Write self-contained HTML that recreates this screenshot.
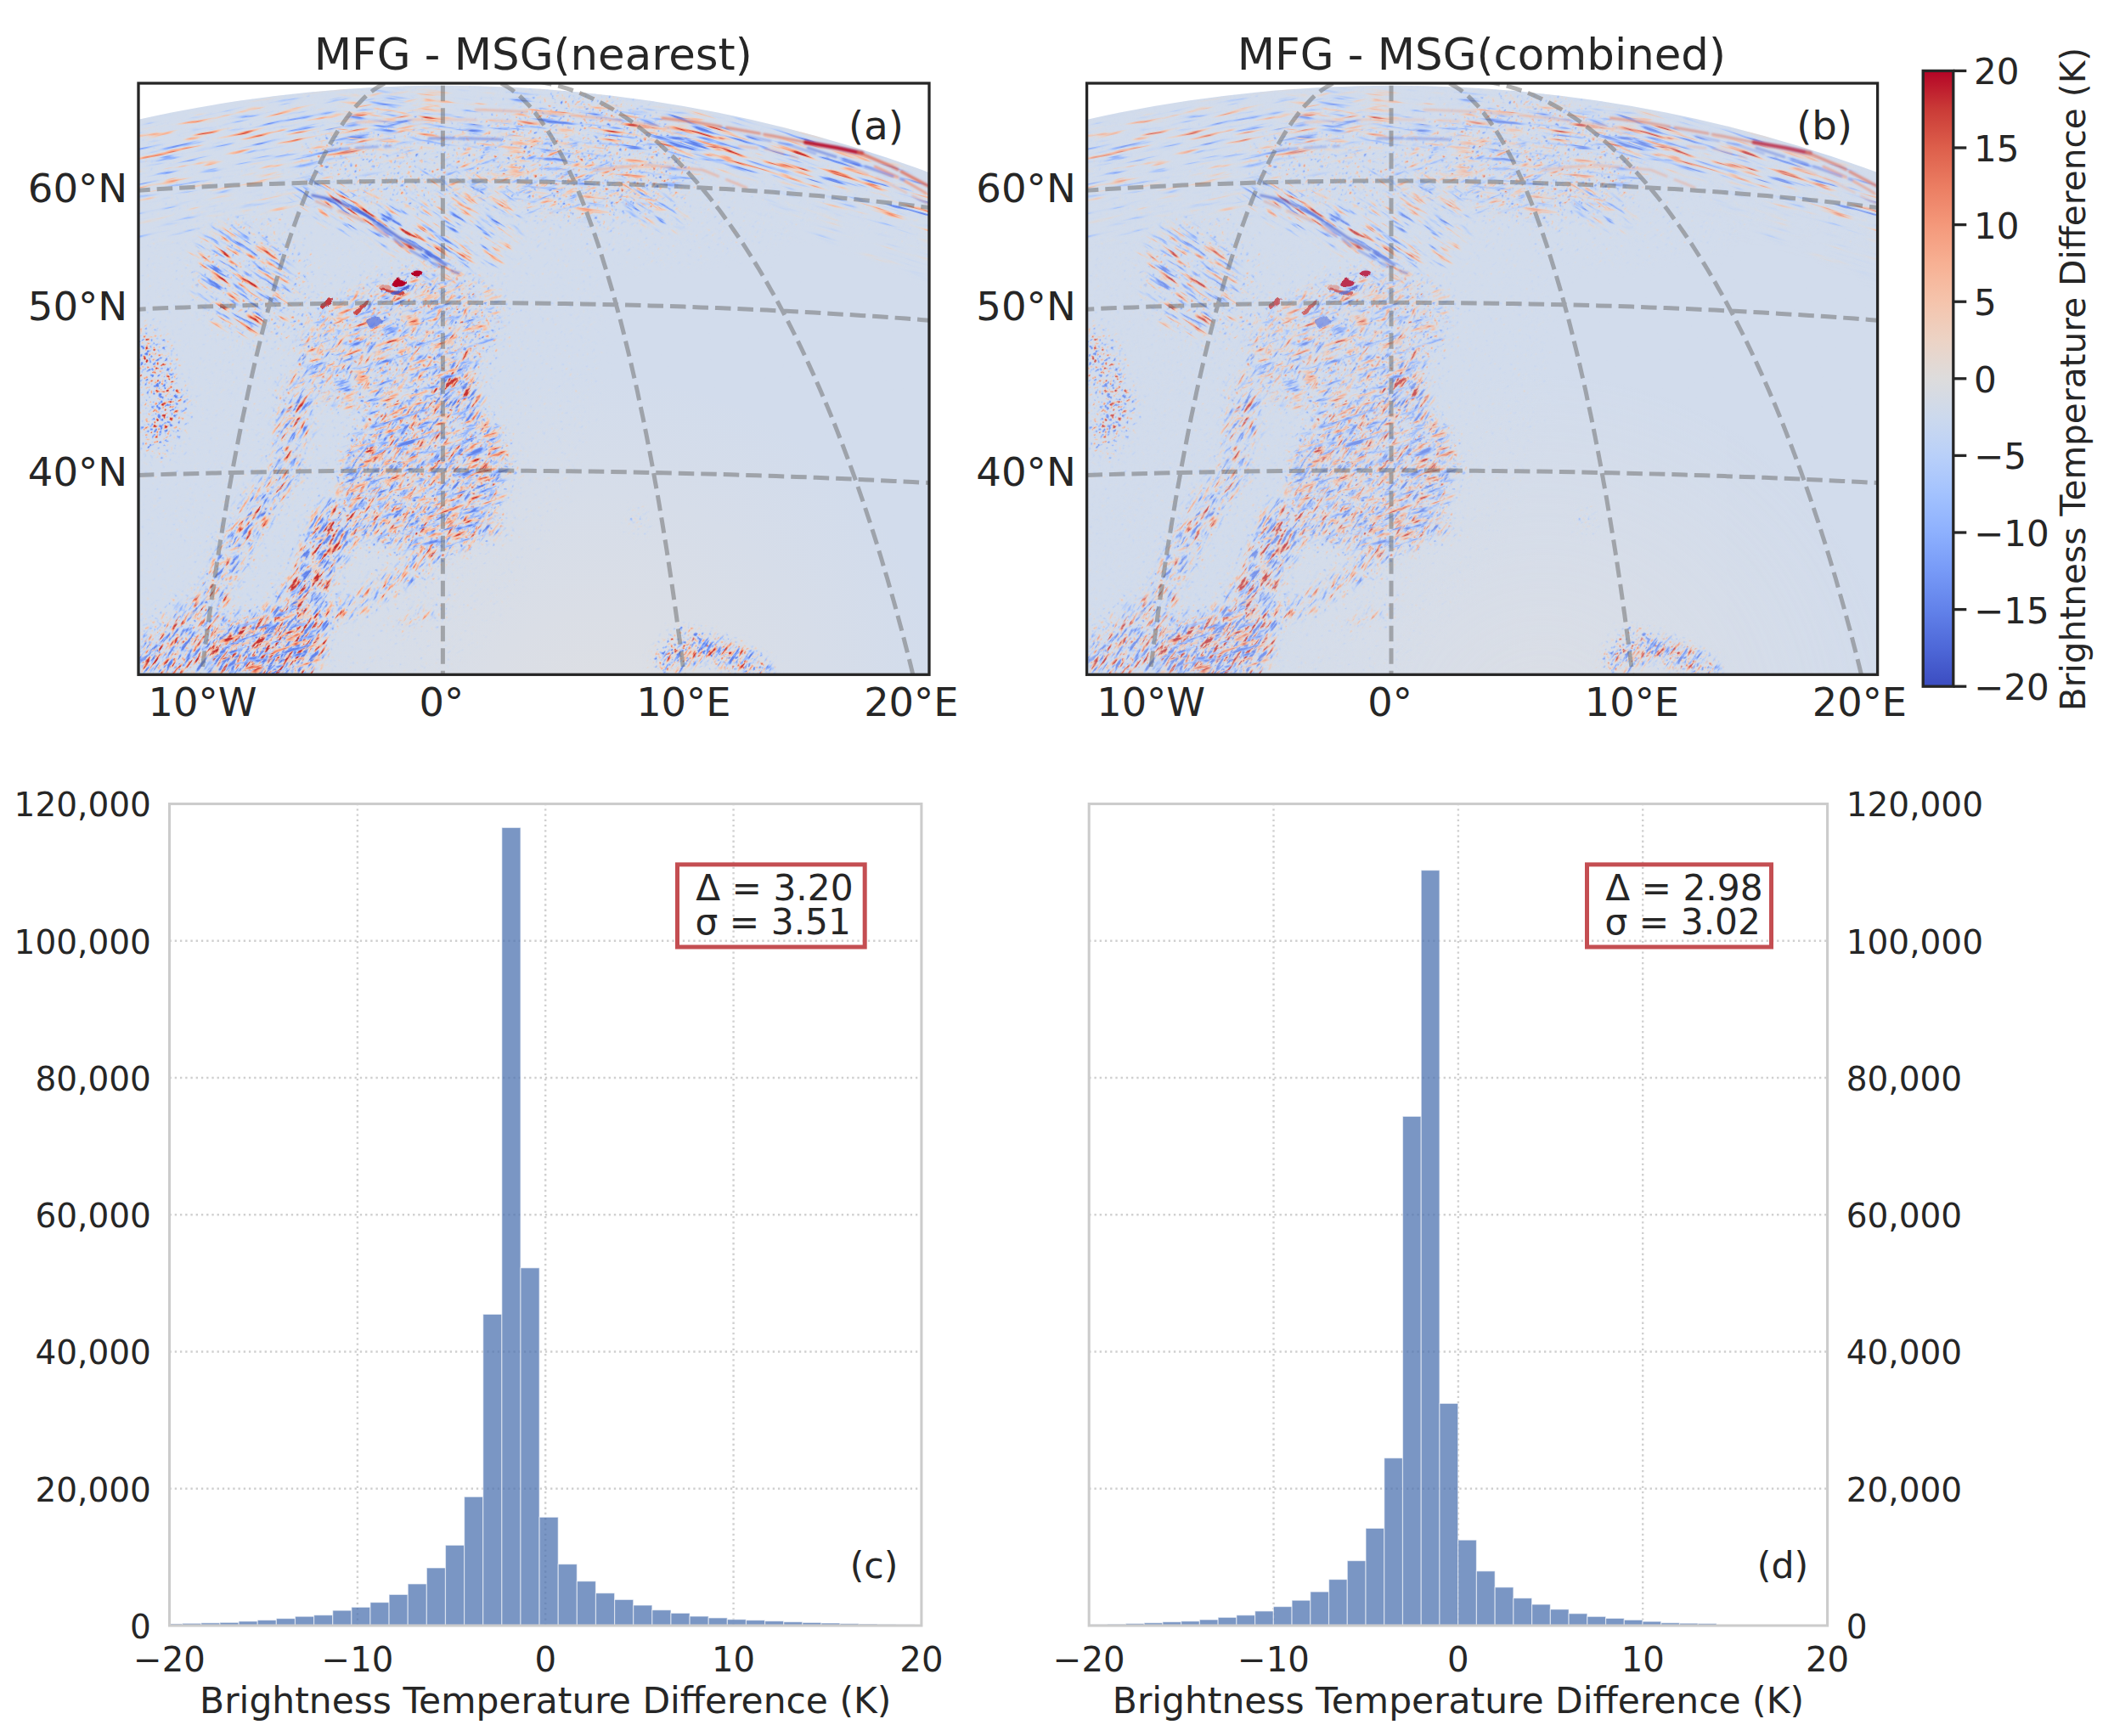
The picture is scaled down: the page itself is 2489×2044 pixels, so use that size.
<!DOCTYPE html>
<html lang="en"><head><meta charset="utf-8"><title>MFG - MSG brightness temperature difference</title>
<style>html,body{margin:0;padding:0;background:#fff}body{width:2489px;height:2044px;overflow:hidden}svg{display:block}text{font-family:"DejaVu Sans","Liberation Sans",sans-serif;fill:#262626}</style></head><body>
<svg width="2489" height="2044" viewBox="0 0 2489 2044">
<rect width="2489" height="2044" fill="#fff"/>
<defs>
<clipPath id="clipA"><rect x="163.0" y="98.0" width="931.0" height="696.3"/></clipPath>
<clipPath id="disc"><circle cx="523.4" cy="1742.6" r="1641.8"/></clipPath>
<linearGradient id="cw" x1="0" y1="1" x2="0" y2="0">
<stop offset="0.0000" stop-color="#3b4cc0"/>
<stop offset="0.0625" stop-color="#4e68d8"/>
<stop offset="0.1250" stop-color="#6282ea"/>
<stop offset="0.1875" stop-color="#779af7"/>
<stop offset="0.2500" stop-color="#8db0fe"/>
<stop offset="0.3125" stop-color="#a3c2fe"/>
<stop offset="0.3750" stop-color="#b9d0f9"/>
<stop offset="0.4375" stop-color="#ccd9ed"/>
<stop offset="0.5000" stop-color="#dddcdc"/>
<stop offset="0.5625" stop-color="#ecd3c5"/>
<stop offset="0.6250" stop-color="#f5c4ac"/>
<stop offset="0.6875" stop-color="#f7b093"/>
<stop offset="0.7500" stop-color="#f4987a"/>
<stop offset="0.8125" stop-color="#eb7d62"/>
<stop offset="0.8750" stop-color="#dd5f4b"/>
<stop offset="0.9375" stop-color="#ca3b37"/>
<stop offset="1.0000" stop-color="#b40426"/>
</linearGradient>
<g id="tex">
<radialGradient id="tint" cx="700" cy="860" r="420" gradientUnits="userSpaceOnUse"><stop offset="0" stop-color="#dedfe3"/><stop offset="1" stop-color="#dedfe3" stop-opacity="0"/></radialGradient>
<rect x="163.0" y="98.0" width="931.0" height="696.3" fill="url(#tint)"/>
<filter id="tx0" x="0" y="0" width="1" height="1" color-interpolation-filters="sRGB">
<feGaussianBlur in="SourceGraphic" stdDeviation="12" result="m"/>
<feTurbulence type="fractalNoise" baseFrequency="0.2 0.26" numOctaves="2" seed="7" result="t"/>
<feColorMatrix in="t" type="matrix" values="0 0 0 1 0 0 0 0 1 0 0 0 0 1 0 0 0 0 0 1" result="tg"/>
<feComposite in="tg" in2="m" operator="arithmetic" k1="2.9" k2="0" k3="-1.45" k4="0.455" result="s"/>
<feComponentTransfer in="s" result="col"><feFuncR type="table" tableValues="0.384 0.404 0.425 0.446 0.468 0.489 0.505 0.527 0.543 0.565 0.581 0.598 0.614 0.630 0.646 0.662 0.673 0.688 0.698 0.714 0.724 0.734 0.744 0.754 0.763 0.773 0.777 0.787 0.791 0.796 0.801 0.805 0.809 0.814 0.814 0.818 0.818 0.818 0.818 0.822 0.822 0.827 0.831 0.835 0.843 0.847 0.851 0.859 0.867 0.876 0.884 0.892 0.900 0.909 0.916 0.926 0.933 0.938 0.946 0.951 0.958 0.962 0.965 0.968 0.969 0.970 0.968 0.966 0.962 0.957 0.948 0.939 0.929 0.915 0.900 0.885 0.865 0.844 0.820 0.796 0.769"/><feFuncG type="table" tableValues="0.510 0.535 0.559 0.582 0.606 0.628 0.644 0.665 0.680 0.699 0.713 0.727 0.740 0.753 0.764 0.775 0.783 0.793 0.799 0.809 0.815 0.820 0.825 0.830 0.835 0.839 0.841 0.845 0.847 0.849 0.850 0.852 0.853 0.854 0.854 0.856 0.856 0.856 0.856 0.857 0.857 0.858 0.860 0.861 0.862 0.862 0.863 0.864 0.864 0.860 0.856 0.852 0.848 0.839 0.834 0.826 0.816 0.809 0.799 0.787 0.771 0.758 0.745 0.726 0.706 0.690 0.668 0.646 0.622 0.598 0.566 0.540 0.512 0.477 0.441 0.410 0.371 0.330 0.287 0.242 0.189"/><feFuncB type="table" tableValues="0.918 0.932 0.946 0.957 0.969 0.977 0.983 0.989 0.993 0.997 0.998 1.000 0.999 0.999 0.997 0.994 0.992 0.988 0.985 0.979 0.976 0.971 0.966 0.961 0.956 0.949 0.946 0.940 0.937 0.933 0.930 0.926 0.922 0.918 0.918 0.915 0.915 0.915 0.915 0.911 0.911 0.907 0.903 0.899 0.890 0.886 0.881 0.872 0.863 0.851 0.840 0.829 0.818 0.800 0.789 0.771 0.753 0.741 0.723 0.705 0.680 0.662 0.643 0.618 0.594 0.575 0.550 0.526 0.502 0.477 0.447 0.424 0.401 0.372 0.344 0.323 0.296 0.270 0.245 0.221 0.198"/></feComponentTransfer>
<feComponentTransfer in="s" result="av"><feFuncR type="table" tableValues="1.000 1.000 1.000 1.000 1.000 1.000 1.000 1.000 1.000 1.000 1.000 1.000 0.995 0.919 0.846 0.775 0.706 0.641 0.578 0.517 0.460 0.405 0.353 0.304 0.257 0.214 0.173 0.136 0.101 0.070 0.042 0.017 0.000 0.000 0.000 0.000 0.000 0.000 0.000 0.000 0.000 0.005 0.030 0.058 0.090 0.126 0.165 0.207 0.253 0.302 0.354 0.409 0.468 0.529 0.594 0.662 0.732 0.806 0.882 0.961 1.000 1.000 1.000 1.000 1.000 1.000 1.000 1.000 1.000 1.000 1.000 1.000 1.000 1.000 1.000 1.000 1.000 1.000 1.000 1.000 1.000"/></feComponentTransfer>
<feColorMatrix in="av" type="matrix" values="0 0 0 0 1 0 0 0 0 1 0 0 0 0 1 1 0 0 0 0" result="a"/>
<feComposite in="col" in2="a" operator="in"/>
</filter>
<g transform="rotate(-35 628.5 446.15)" filter="url(#tx0)" opacity="1"><g transform="rotate(35 628.5 446.15)">
<rect x="103.0" y="38.0" width="1051.0" height="816.3" fill="#000"/>
<rect x="103.0" y="38.0" width="1051.0" height="816.3" fill="rgb(17,17,17)"/>
<ellipse cx="400" cy="470" rx="300" ry="420" transform="rotate(20 400 470)" fill="rgb(56,56,56)"/>
<ellipse cx="640" cy="200" rx="330" ry="110" transform="rotate(8 640 200)" fill="rgb(63,63,63)"/>
<path d="M150 195.2 L189.6 186.2 L229.2 178.2 L268.8 171.3 L308.3 165.4 L347.9 160.5 L387.5 156.6 L427.1 153.7 L466.7 151.8 L506.2 150.9 L545.8 151 L585.4 152 L625 154 L664.6 157.1 L704.2 161.1 L743.8 166.1 L783.3 172.2 L822.9 179.2 L862.5 187.3 L902.1 196.5 L941.7 206.7 L981.2 218.1 L1020.8 230.5 L1060.4 244.1 L1100 258.9" fill="none" stroke="rgb(56,56,56)" stroke-width="100" stroke-linecap="round" stroke-linejoin="round"/>
<ellipse cx="690" cy="185" rx="130" ry="75" transform="rotate(5 690 185)" fill="rgb(127,127,127)"/>
<ellipse cx="470" cy="190" rx="120" ry="55" transform="rotate(0 470 190)" fill="rgb(107,107,107)"/>
<path d="M172 405 L186 445 L200 482 L184 515" fill="none" stroke="rgb(216,216,216)" stroke-width="34" stroke-linecap="round" stroke-linejoin="round"/>
<ellipse cx="300" cy="330" rx="70" ry="80" transform="rotate(-30 300 330)" fill="rgb(102,102,102)"/>
<ellipse cx="470" cy="400" rx="130" ry="80" transform="rotate(-20 470 400)" fill="rgb(127,127,127)"/>
<ellipse cx="500" cy="560" rx="105" ry="95" transform="rotate(-20 500 560)" fill="rgb(153,153,153)"/>
<path d="M164 773 L249 707 L284 629 L338 551 L349 462" fill="none" stroke="rgb(114,114,114)" stroke-width="50" stroke-linecap="round" stroke-linejoin="round"/>
<path d="M300 796 L360 696 L393 618 L471 584 L516 551 L538 462 L520 380" fill="none" stroke="rgb(140,140,140)" stroke-width="60" stroke-linecap="round" stroke-linejoin="round"/>
<path d="M360 742 L440 700 L522 651 L585 622" fill="none" stroke="rgb(140,140,140)" stroke-width="22" stroke-linecap="round" stroke-linejoin="round"/>
<path d="M471 736 L527 707" fill="none" stroke="rgb(114,114,114)" stroke-width="18" stroke-linecap="round" stroke-linejoin="round"/>
<ellipse cx="310" cy="762" rx="70" ry="40" transform="rotate(0 310 762)" fill="rgb(178,178,178)"/>
<ellipse cx="200" cy="770" rx="45" ry="35" transform="rotate(0 200 770)" fill="rgb(140,140,140)"/>
<path d="M782 778 L815 758 L850 768 L895 790" fill="none" stroke="rgb(216,216,216)" stroke-width="34" stroke-linecap="round" stroke-linejoin="round"/>
<ellipse cx="800" cy="745" rx="14" ry="8" transform="rotate(0 800 745)" fill="rgb(204,204,204)"/>
<ellipse cx="752" cy="612" rx="12" ry="20" transform="rotate(0 752 612)" fill="rgb(153,153,153)"/>
</g></g>
<filter id="txl" x="0" y="0" width="1" height="1" color-interpolation-filters="sRGB">
<feGaussianBlur in="SourceGraphic" stdDeviation="14" result="m"/>
<feTurbulence type="fractalNoise" baseFrequency="0.018 0.2" numOctaves="3" seed="11" result="t"/>
<feColorMatrix in="t" type="matrix" values="0 0 0 1 0 0 0 0 1 0 0 0 0 1 0 0 0 0 0 1" result="tg"/>
<feComposite in="tg" in2="m" operator="arithmetic" k1="3.0" k2="0" k3="-1.5" k4="0.455" result="s"/>
<feComponentTransfer in="s" result="col"><feFuncR type="table" tableValues="0.384 0.404 0.425 0.446 0.468 0.489 0.505 0.527 0.543 0.565 0.581 0.598 0.614 0.630 0.646 0.662 0.673 0.688 0.698 0.714 0.724 0.734 0.744 0.754 0.763 0.773 0.777 0.787 0.791 0.796 0.801 0.805 0.809 0.814 0.814 0.818 0.818 0.818 0.818 0.822 0.822 0.827 0.831 0.835 0.843 0.847 0.851 0.859 0.867 0.876 0.884 0.892 0.900 0.909 0.916 0.926 0.933 0.938 0.946 0.951 0.958 0.962 0.965 0.968 0.969 0.970 0.968 0.966 0.962 0.957 0.948 0.939 0.929 0.915 0.900 0.885 0.865 0.844 0.820 0.796 0.769"/><feFuncG type="table" tableValues="0.510 0.535 0.559 0.582 0.606 0.628 0.644 0.665 0.680 0.699 0.713 0.727 0.740 0.753 0.764 0.775 0.783 0.793 0.799 0.809 0.815 0.820 0.825 0.830 0.835 0.839 0.841 0.845 0.847 0.849 0.850 0.852 0.853 0.854 0.854 0.856 0.856 0.856 0.856 0.857 0.857 0.858 0.860 0.861 0.862 0.862 0.863 0.864 0.864 0.860 0.856 0.852 0.848 0.839 0.834 0.826 0.816 0.809 0.799 0.787 0.771 0.758 0.745 0.726 0.706 0.690 0.668 0.646 0.622 0.598 0.566 0.540 0.512 0.477 0.441 0.410 0.371 0.330 0.287 0.242 0.189"/><feFuncB type="table" tableValues="0.918 0.932 0.946 0.957 0.969 0.977 0.983 0.989 0.993 0.997 0.998 1.000 0.999 0.999 0.997 0.994 0.992 0.988 0.985 0.979 0.976 0.971 0.966 0.961 0.956 0.949 0.946 0.940 0.937 0.933 0.930 0.926 0.922 0.918 0.918 0.915 0.915 0.915 0.915 0.911 0.911 0.907 0.903 0.899 0.890 0.886 0.881 0.872 0.863 0.851 0.840 0.829 0.818 0.800 0.789 0.771 0.753 0.741 0.723 0.705 0.680 0.662 0.643 0.618 0.594 0.575 0.550 0.526 0.502 0.477 0.447 0.424 0.401 0.372 0.344 0.323 0.296 0.270 0.245 0.221 0.198"/></feComponentTransfer>
<feComponentTransfer in="s" result="av"><feFuncR type="table" tableValues="1.000 1.000 1.000 1.000 1.000 1.000 1.000 1.000 1.000 1.000 1.000 1.000 0.995 0.919 0.846 0.775 0.706 0.641 0.578 0.517 0.460 0.405 0.353 0.304 0.257 0.214 0.173 0.136 0.101 0.070 0.042 0.017 0.000 0.000 0.000 0.000 0.000 0.000 0.000 0.000 0.000 0.005 0.030 0.058 0.090 0.126 0.165 0.207 0.253 0.302 0.354 0.409 0.468 0.529 0.594 0.662 0.732 0.806 0.882 0.961 1.000 1.000 1.000 1.000 1.000 1.000 1.000 1.000 1.000 1.000 1.000 1.000 1.000 1.000 1.000 1.000 1.000 1.000 1.000 1.000 1.000"/></feComponentTransfer>
<feColorMatrix in="av" type="matrix" values="0 0 0 0 1 0 0 0 0 1 0 0 0 0 1 1 0 0 0 0" result="a"/>
<feComposite in="col" in2="a" operator="in"/>
</filter>
<g transform="rotate(-11 628.5 446.15)" filter="url(#txl)" opacity="1"><g transform="rotate(11 628.5 446.15)">
<rect x="103.0" y="38.0" width="1051.0" height="816.3" fill="#000"/>
<path d="M140 193.5 L154.2 190.1 L168.3 186.8 L182.5 183.6 L196.7 180.6 L210.8 177.7 L225 174.9 L239.2 172.3 L253.3 169.8 L267.5 167.5 L281.7 165.2 L295.8 163.1 L310 161.1 L324.2 159.3 L338.3 157.6 L352.5 156 L366.7 154.5 L380.8 153.2 L395 152 L409.2 150.9 L423.3 149.9 L437.5 149.1 L451.7 148.4 L465.8 147.8 L480 147.4" fill="none" stroke="rgb(127,127,127)" stroke-width="90" stroke-linecap="round" stroke-linejoin="round"/>
<path d="M140 275.1 L152.1 272 L164.2 269 L176.2 266.1 L188.3 263.3 L200.4 260.6 L212.5 258 L224.6 255.5 L236.7 253.1 L248.8 250.9 L260.8 248.7 L272.9 246.6 L285 244.7 L297.1 242.8 L309.2 241 L321.2 239.3 L333.3 237.8 L345.4 236.3 L357.5 234.9 L369.6 233.6 L381.7 232.4 L393.8 231.4 L405.8 230.4 L417.9 229.5 L430 228.7" fill="none" stroke="rgb(84,84,84)" stroke-width="60" stroke-linecap="round" stroke-linejoin="round"/>
</g></g>
<filter id="txm" x="0" y="0" width="1" height="1" color-interpolation-filters="sRGB">
<feGaussianBlur in="SourceGraphic" stdDeviation="14" result="m"/>
<feTurbulence type="fractalNoise" baseFrequency="0.02 0.2" numOctaves="3" seed="23" result="t"/>
<feColorMatrix in="t" type="matrix" values="0 0 0 1 0 0 0 0 1 0 0 0 0 1 0 0 0 0 0 1" result="tg"/>
<feComposite in="tg" in2="m" operator="arithmetic" k1="3.0" k2="0" k3="-1.5" k4="0.455" result="s"/>
<feComponentTransfer in="s" result="col"><feFuncR type="table" tableValues="0.384 0.404 0.425 0.446 0.468 0.489 0.505 0.527 0.543 0.565 0.581 0.598 0.614 0.630 0.646 0.662 0.673 0.688 0.698 0.714 0.724 0.734 0.744 0.754 0.763 0.773 0.777 0.787 0.791 0.796 0.801 0.805 0.809 0.814 0.814 0.818 0.818 0.818 0.818 0.822 0.822 0.827 0.831 0.835 0.843 0.847 0.851 0.859 0.867 0.876 0.884 0.892 0.900 0.909 0.916 0.926 0.933 0.938 0.946 0.951 0.958 0.962 0.965 0.968 0.969 0.970 0.968 0.966 0.962 0.957 0.948 0.939 0.929 0.915 0.900 0.885 0.865 0.844 0.820 0.796 0.769"/><feFuncG type="table" tableValues="0.510 0.535 0.559 0.582 0.606 0.628 0.644 0.665 0.680 0.699 0.713 0.727 0.740 0.753 0.764 0.775 0.783 0.793 0.799 0.809 0.815 0.820 0.825 0.830 0.835 0.839 0.841 0.845 0.847 0.849 0.850 0.852 0.853 0.854 0.854 0.856 0.856 0.856 0.856 0.857 0.857 0.858 0.860 0.861 0.862 0.862 0.863 0.864 0.864 0.860 0.856 0.852 0.848 0.839 0.834 0.826 0.816 0.809 0.799 0.787 0.771 0.758 0.745 0.726 0.706 0.690 0.668 0.646 0.622 0.598 0.566 0.540 0.512 0.477 0.441 0.410 0.371 0.330 0.287 0.242 0.189"/><feFuncB type="table" tableValues="0.918 0.932 0.946 0.957 0.969 0.977 0.983 0.989 0.993 0.997 0.998 1.000 0.999 0.999 0.997 0.994 0.992 0.988 0.985 0.979 0.976 0.971 0.966 0.961 0.956 0.949 0.946 0.940 0.937 0.933 0.930 0.926 0.922 0.918 0.918 0.915 0.915 0.915 0.915 0.911 0.911 0.907 0.903 0.899 0.890 0.886 0.881 0.872 0.863 0.851 0.840 0.829 0.818 0.800 0.789 0.771 0.753 0.741 0.723 0.705 0.680 0.662 0.643 0.618 0.594 0.575 0.550 0.526 0.502 0.477 0.447 0.424 0.401 0.372 0.344 0.323 0.296 0.270 0.245 0.221 0.198"/></feComponentTransfer>
<feComponentTransfer in="s" result="av"><feFuncR type="table" tableValues="1.000 1.000 1.000 1.000 1.000 1.000 1.000 1.000 1.000 1.000 1.000 1.000 0.995 0.919 0.846 0.775 0.706 0.641 0.578 0.517 0.460 0.405 0.353 0.304 0.257 0.214 0.173 0.136 0.101 0.070 0.042 0.017 0.000 0.000 0.000 0.000 0.000 0.000 0.000 0.000 0.000 0.005 0.030 0.058 0.090 0.126 0.165 0.207 0.253 0.302 0.354 0.409 0.468 0.529 0.594 0.662 0.732 0.806 0.882 0.961 1.000 1.000 1.000 1.000 1.000 1.000 1.000 1.000 1.000 1.000 1.000 1.000 1.000 1.000 1.000 1.000 1.000 1.000 1.000 1.000 1.000"/></feComponentTransfer>
<feColorMatrix in="av" type="matrix" values="0 0 0 0 1 0 0 0 0 1 0 0 0 0 1 1 0 0 0 0" result="a"/>
<feComposite in="col" in2="a" operator="in"/>
</filter>
<g transform="rotate(6 628.5 446.15)" filter="url(#txm)" opacity="1"><g transform="rotate(-6 628.5 446.15)">
<rect x="103.0" y="38.0" width="1051.0" height="816.3" fill="#000"/>
<path d="M420 144.1 L437.5 143.1 L455 142.3 L472.5 141.6 L490 141.1 L507.5 140.9 L525 140.8 L542.5 140.9 L560 141.2 L577.5 141.7 L595 142.4 L612.5 143.3 L630 144.4 L647.5 145.6 L665 147.1 L682.5 148.7 L700 150.6 L717.5 152.6 L735 154.8 L752.5 157.3 L770 159.9 L787.5 162.7 L805 165.7 L822.5 169 L840 172.4" fill="none" stroke="rgb(127,127,127)" stroke-width="70" stroke-linecap="round" stroke-linejoin="round"/>
<ellipse cx="690" cy="215" rx="130" ry="45" transform="rotate(8 690 215)" fill="rgb(102,102,102)"/>
</g></g>
<filter id="txr" x="0" y="0" width="1" height="1" color-interpolation-filters="sRGB">
<feGaussianBlur in="SourceGraphic" stdDeviation="13" result="m"/>
<feTurbulence type="fractalNoise" baseFrequency="0.016 0.2" numOctaves="3" seed="31" result="t"/>
<feColorMatrix in="t" type="matrix" values="0 0 0 1 0 0 0 0 1 0 0 0 0 1 0 0 0 0 0 1" result="tg"/>
<feComposite in="tg" in2="m" operator="arithmetic" k1="3.1" k2="0" k3="-1.55" k4="0.455" result="s"/>
<feComponentTransfer in="s" result="col"><feFuncR type="table" tableValues="0.384 0.404 0.425 0.446 0.468 0.489 0.505 0.527 0.543 0.565 0.581 0.598 0.614 0.630 0.646 0.662 0.673 0.688 0.698 0.714 0.724 0.734 0.744 0.754 0.763 0.773 0.777 0.787 0.791 0.796 0.801 0.805 0.809 0.814 0.814 0.818 0.818 0.818 0.818 0.822 0.822 0.827 0.831 0.835 0.843 0.847 0.851 0.859 0.867 0.876 0.884 0.892 0.900 0.909 0.916 0.926 0.933 0.938 0.946 0.951 0.958 0.962 0.965 0.968 0.969 0.970 0.968 0.966 0.962 0.957 0.948 0.939 0.929 0.915 0.900 0.885 0.865 0.844 0.820 0.796 0.769"/><feFuncG type="table" tableValues="0.510 0.535 0.559 0.582 0.606 0.628 0.644 0.665 0.680 0.699 0.713 0.727 0.740 0.753 0.764 0.775 0.783 0.793 0.799 0.809 0.815 0.820 0.825 0.830 0.835 0.839 0.841 0.845 0.847 0.849 0.850 0.852 0.853 0.854 0.854 0.856 0.856 0.856 0.856 0.857 0.857 0.858 0.860 0.861 0.862 0.862 0.863 0.864 0.864 0.860 0.856 0.852 0.848 0.839 0.834 0.826 0.816 0.809 0.799 0.787 0.771 0.758 0.745 0.726 0.706 0.690 0.668 0.646 0.622 0.598 0.566 0.540 0.512 0.477 0.441 0.410 0.371 0.330 0.287 0.242 0.189"/><feFuncB type="table" tableValues="0.918 0.932 0.946 0.957 0.969 0.977 0.983 0.989 0.993 0.997 0.998 1.000 0.999 0.999 0.997 0.994 0.992 0.988 0.985 0.979 0.976 0.971 0.966 0.961 0.956 0.949 0.946 0.940 0.937 0.933 0.930 0.926 0.922 0.918 0.918 0.915 0.915 0.915 0.915 0.911 0.911 0.907 0.903 0.899 0.890 0.886 0.881 0.872 0.863 0.851 0.840 0.829 0.818 0.800 0.789 0.771 0.753 0.741 0.723 0.705 0.680 0.662 0.643 0.618 0.594 0.575 0.550 0.526 0.502 0.477 0.447 0.424 0.401 0.372 0.344 0.323 0.296 0.270 0.245 0.221 0.198"/></feComponentTransfer>
<feComponentTransfer in="s" result="av"><feFuncR type="table" tableValues="1.000 1.000 1.000 1.000 1.000 1.000 1.000 1.000 1.000 1.000 1.000 1.000 0.995 0.919 0.846 0.775 0.706 0.641 0.578 0.517 0.460 0.405 0.353 0.304 0.257 0.214 0.173 0.136 0.101 0.070 0.042 0.017 0.000 0.000 0.000 0.000 0.000 0.000 0.000 0.000 0.000 0.005 0.030 0.058 0.090 0.126 0.165 0.207 0.253 0.302 0.354 0.409 0.468 0.529 0.594 0.662 0.732 0.806 0.882 0.961 1.000 1.000 1.000 1.000 1.000 1.000 1.000 1.000 1.000 1.000 1.000 1.000 1.000 1.000 1.000 1.000 1.000 1.000 1.000 1.000 1.000"/></feComponentTransfer>
<feColorMatrix in="av" type="matrix" values="0 0 0 0 1 0 0 0 0 1 0 0 0 0 1 1 0 0 0 0" result="a"/>
<feComposite in="col" in2="a" operator="in"/>
</filter>
<g transform="rotate(17 628.5 446.15)" filter="url(#txr)" opacity="1"><g transform="rotate(-17 628.5 446.15)">
<rect x="103.0" y="38.0" width="1051.0" height="816.3" fill="#000"/>
<path d="M780 155.4 L793.8 157.7 L807.5 160.1 L821.2 162.6 L835 165.3 L848.8 168.1 L862.5 171 L876.2 174 L890 177.2 L903.8 180.4 L917.5 183.8 L931.2 187.4 L945 191.1 L958.8 194.9 L972.5 198.8 L986.2 202.9 L1000 207.1 L1013.8 211.4 L1027.5 215.9 L1041.2 220.5 L1055 225.2 L1068.8 230.1 L1082.5 235.1 L1096.2 240.3 L1110 245.6" fill="none" stroke="rgb(173,173,173)" stroke-width="60" stroke-linecap="round" stroke-linejoin="round"/>
<path d="M900 247.5 L908.8 249.7 L917.5 252 L926.2 254.4 L935 256.8 L943.8 259.2 L952.5 261.7 L961.2 264.3 L970 266.9 L978.8 269.6 L987.5 272.3 L996.2 275.1 L1005 277.9 L1013.8 280.9 L1022.5 283.8 L1031.2 286.8 L1040 289.9 L1048.8 293.1 L1057.5 296.3 L1066.2 299.5 L1075 302.8 L1083.8 306.2 L1092.5 309.7 L1101.2 313.2 L1110 316.8" fill="none" stroke="rgb(63,63,63)" stroke-width="55" stroke-linecap="round" stroke-linejoin="round"/>
</g></g>
<filter id="txp" x="0" y="0" width="1" height="1" color-interpolation-filters="sRGB">
<feGaussianBlur in="SourceGraphic" stdDeviation="12" result="m"/>
<feTurbulence type="fractalNoise" baseFrequency="0.03 0.22" numOctaves="3" seed="5" result="t"/>
<feColorMatrix in="t" type="matrix" values="0 0 0 1 0 0 0 0 1 0 0 0 0 1 0 0 0 0 0 1" result="tg"/>
<feComposite in="tg" in2="m" operator="arithmetic" k1="3.0" k2="0" k3="-1.5" k4="0.455" result="s"/>
<feComponentTransfer in="s" result="col"><feFuncR type="table" tableValues="0.384 0.404 0.425 0.446 0.468 0.489 0.505 0.527 0.543 0.565 0.581 0.598 0.614 0.630 0.646 0.662 0.673 0.688 0.698 0.714 0.724 0.734 0.744 0.754 0.763 0.773 0.777 0.787 0.791 0.796 0.801 0.805 0.809 0.814 0.814 0.818 0.818 0.818 0.818 0.822 0.822 0.827 0.831 0.835 0.843 0.847 0.851 0.859 0.867 0.876 0.884 0.892 0.900 0.909 0.916 0.926 0.933 0.938 0.946 0.951 0.958 0.962 0.965 0.968 0.969 0.970 0.968 0.966 0.962 0.957 0.948 0.939 0.929 0.915 0.900 0.885 0.865 0.844 0.820 0.796 0.769"/><feFuncG type="table" tableValues="0.510 0.535 0.559 0.582 0.606 0.628 0.644 0.665 0.680 0.699 0.713 0.727 0.740 0.753 0.764 0.775 0.783 0.793 0.799 0.809 0.815 0.820 0.825 0.830 0.835 0.839 0.841 0.845 0.847 0.849 0.850 0.852 0.853 0.854 0.854 0.856 0.856 0.856 0.856 0.857 0.857 0.858 0.860 0.861 0.862 0.862 0.863 0.864 0.864 0.860 0.856 0.852 0.848 0.839 0.834 0.826 0.816 0.809 0.799 0.787 0.771 0.758 0.745 0.726 0.706 0.690 0.668 0.646 0.622 0.598 0.566 0.540 0.512 0.477 0.441 0.410 0.371 0.330 0.287 0.242 0.189"/><feFuncB type="table" tableValues="0.918 0.932 0.946 0.957 0.969 0.977 0.983 0.989 0.993 0.997 0.998 1.000 0.999 0.999 0.997 0.994 0.992 0.988 0.985 0.979 0.976 0.971 0.966 0.961 0.956 0.949 0.946 0.940 0.937 0.933 0.930 0.926 0.922 0.918 0.918 0.915 0.915 0.915 0.915 0.911 0.911 0.907 0.903 0.899 0.890 0.886 0.881 0.872 0.863 0.851 0.840 0.829 0.818 0.800 0.789 0.771 0.753 0.741 0.723 0.705 0.680 0.662 0.643 0.618 0.594 0.575 0.550 0.526 0.502 0.477 0.447 0.424 0.401 0.372 0.344 0.323 0.296 0.270 0.245 0.221 0.198"/></feComponentTransfer>
<feComponentTransfer in="s" result="av"><feFuncR type="table" tableValues="1.000 1.000 1.000 1.000 1.000 1.000 1.000 1.000 1.000 1.000 1.000 1.000 0.995 0.919 0.846 0.775 0.706 0.641 0.578 0.517 0.460 0.405 0.353 0.304 0.257 0.214 0.173 0.136 0.101 0.070 0.042 0.017 0.000 0.000 0.000 0.000 0.000 0.000 0.000 0.000 0.000 0.005 0.030 0.058 0.090 0.126 0.165 0.207 0.253 0.302 0.354 0.409 0.468 0.529 0.594 0.662 0.732 0.806 0.882 0.961 1.000 1.000 1.000 1.000 1.000 1.000 1.000 1.000 1.000 1.000 1.000 1.000 1.000 1.000 1.000 1.000 1.000 1.000 1.000 1.000 1.000"/></feComponentTransfer>
<feColorMatrix in="av" type="matrix" values="0 0 0 0 1 0 0 0 0 1 0 0 0 0 1 1 0 0 0 0" result="a"/>
<feComposite in="col" in2="a" operator="in"/>
</filter>
<g transform="rotate(33 628.5 446.15)" filter="url(#txp)" opacity="1"><g transform="rotate(-33 628.5 446.15)">
<rect x="103.0" y="38.0" width="1051.0" height="816.3" fill="#000"/>
<path d="M365 228 L450 262 L525 312" fill="none" stroke="rgb(178,178,178)" stroke-width="50" stroke-linecap="round" stroke-linejoin="round"/>
<ellipse cx="285" cy="330" rx="60" ry="75" transform="rotate(-35 285 330)" fill="rgb(153,153,153)"/>
<ellipse cx="765" cy="240" rx="50" ry="25" transform="rotate(33 765 240)" fill="rgb(153,153,153)"/>
<ellipse cx="545" cy="240" rx="70" ry="50" transform="rotate(20 545 240)" fill="rgb(114,114,114)"/>
<ellipse cx="565" cy="268" rx="50" ry="60" transform="rotate(30 565 268)" fill="rgb(140,140,140)"/>
</g></g>
<filter id="txd" x="0" y="0" width="1" height="1" color-interpolation-filters="sRGB">
<feGaussianBlur in="SourceGraphic" stdDeviation="10" result="m"/>
<feTurbulence type="fractalNoise" baseFrequency="0.05 0.24" numOctaves="3" seed="17" result="t"/>
<feColorMatrix in="t" type="matrix" values="0 0 0 1 0 0 0 0 1 0 0 0 0 1 0 0 0 0 0 1" result="tg"/>
<feComposite in="tg" in2="m" operator="arithmetic" k1="3.5" k2="0" k3="-1.75" k4="0.455" result="s"/>
<feComponentTransfer in="s" result="col"><feFuncR type="table" tableValues="0.384 0.404 0.425 0.446 0.468 0.489 0.505 0.527 0.543 0.565 0.581 0.598 0.614 0.630 0.646 0.662 0.673 0.688 0.698 0.714 0.724 0.734 0.744 0.754 0.763 0.773 0.777 0.787 0.791 0.796 0.801 0.805 0.809 0.814 0.814 0.818 0.818 0.818 0.818 0.822 0.822 0.827 0.831 0.835 0.843 0.847 0.851 0.859 0.867 0.876 0.884 0.892 0.900 0.909 0.916 0.926 0.933 0.938 0.946 0.951 0.958 0.962 0.965 0.968 0.969 0.970 0.968 0.966 0.962 0.957 0.948 0.939 0.929 0.915 0.900 0.885 0.865 0.844 0.820 0.796 0.769"/><feFuncG type="table" tableValues="0.510 0.535 0.559 0.582 0.606 0.628 0.644 0.665 0.680 0.699 0.713 0.727 0.740 0.753 0.764 0.775 0.783 0.793 0.799 0.809 0.815 0.820 0.825 0.830 0.835 0.839 0.841 0.845 0.847 0.849 0.850 0.852 0.853 0.854 0.854 0.856 0.856 0.856 0.856 0.857 0.857 0.858 0.860 0.861 0.862 0.862 0.863 0.864 0.864 0.860 0.856 0.852 0.848 0.839 0.834 0.826 0.816 0.809 0.799 0.787 0.771 0.758 0.745 0.726 0.706 0.690 0.668 0.646 0.622 0.598 0.566 0.540 0.512 0.477 0.441 0.410 0.371 0.330 0.287 0.242 0.189"/><feFuncB type="table" tableValues="0.918 0.932 0.946 0.957 0.969 0.977 0.983 0.989 0.993 0.997 0.998 1.000 0.999 0.999 0.997 0.994 0.992 0.988 0.985 0.979 0.976 0.971 0.966 0.961 0.956 0.949 0.946 0.940 0.937 0.933 0.930 0.926 0.922 0.918 0.918 0.915 0.915 0.915 0.915 0.911 0.911 0.907 0.903 0.899 0.890 0.886 0.881 0.872 0.863 0.851 0.840 0.829 0.818 0.800 0.789 0.771 0.753 0.741 0.723 0.705 0.680 0.662 0.643 0.618 0.594 0.575 0.550 0.526 0.502 0.477 0.447 0.424 0.401 0.372 0.344 0.323 0.296 0.270 0.245 0.221 0.198"/></feComponentTransfer>
<feComponentTransfer in="s" result="av"><feFuncR type="table" tableValues="1.000 1.000 1.000 1.000 1.000 1.000 1.000 1.000 1.000 1.000 1.000 1.000 0.995 0.919 0.846 0.775 0.706 0.641 0.578 0.517 0.460 0.405 0.353 0.304 0.257 0.214 0.173 0.136 0.101 0.070 0.042 0.017 0.000 0.000 0.000 0.000 0.000 0.000 0.000 0.000 0.000 0.005 0.030 0.058 0.090 0.126 0.165 0.207 0.253 0.302 0.354 0.409 0.468 0.529 0.594 0.662 0.732 0.806 0.882 0.961 1.000 1.000 1.000 1.000 1.000 1.000 1.000 1.000 1.000 1.000 1.000 1.000 1.000 1.000 1.000 1.000 1.000 1.000 1.000 1.000 1.000"/></feComponentTransfer>
<feColorMatrix in="av" type="matrix" values="0 0 0 0 1 0 0 0 0 1 0 0 0 0 1 1 0 0 0 0" result="a"/>
<feComposite in="col" in2="a" operator="in"/>
</filter>
<g transform="rotate(-55 628.5 446.15)" filter="url(#txd)" opacity="1"><g transform="rotate(55 628.5 446.15)">
<rect x="103.0" y="38.0" width="1051.0" height="816.3" fill="#000"/>
<ellipse cx="400" cy="520" rx="170" ry="300" transform="rotate(28 400 520)" fill="rgb(33,33,33)"/>
<path d="M164 773 L249 707 L284 629 L338 551 L349 462" fill="none" stroke="rgb(165,165,165)" stroke-width="36" stroke-linecap="round" stroke-linejoin="round"/>
<path d="M300 796 L360 696 L393 618 L471 584 L516 551 L538 462 L520 380" fill="none" stroke="rgb(229,229,229)" stroke-width="48" stroke-linecap="round" stroke-linejoin="round"/>
<path d="M360 742 L440 700 L522 651 L585 622" fill="none" stroke="rgb(216,216,216)" stroke-width="16" stroke-linecap="round" stroke-linejoin="round"/>
<path d="M471 736 L527 707" fill="none" stroke="rgb(191,191,191)" stroke-width="14" stroke-linecap="round" stroke-linejoin="round"/>
<ellipse cx="310" cy="765" rx="75" ry="42" transform="rotate(0 310 765)" fill="rgb(229,229,229)"/>
<ellipse cx="195" cy="775" rx="50" ry="30" transform="rotate(0 195 775)" fill="rgb(178,178,178)"/>
<ellipse cx="500" cy="560" rx="100" ry="90" transform="rotate(-20 500 560)" fill="rgb(140,140,140)"/>
<ellipse cx="455" cy="400" rx="120" ry="70" transform="rotate(-25 455 400)" fill="rgb(107,107,107)"/>
<path d="M790 780 L830 762 L870 775 L900 792" fill="none" stroke="rgb(216,216,216)" stroke-width="26" stroke-linecap="round" stroke-linejoin="round"/>
</g></g>
<filter id="txe" x="0" y="0" width="1" height="1" color-interpolation-filters="sRGB">
<feGaussianBlur in="SourceGraphic" stdDeviation="12" result="m"/>
<feTurbulence type="fractalNoise" baseFrequency="0.04 0.2" numOctaves="3" seed="41" result="t"/>
<feColorMatrix in="t" type="matrix" values="0 0 0 1 0 0 0 0 1 0 0 0 0 1 0 0 0 0 0 1" result="tg"/>
<feComposite in="tg" in2="m" operator="arithmetic" k1="3.0" k2="0" k3="-1.5" k4="0.455" result="s"/>
<feComponentTransfer in="s" result="col"><feFuncR type="table" tableValues="0.384 0.404 0.425 0.446 0.468 0.489 0.505 0.527 0.543 0.565 0.581 0.598 0.614 0.630 0.646 0.662 0.673 0.688 0.698 0.714 0.724 0.734 0.744 0.754 0.763 0.773 0.777 0.787 0.791 0.796 0.801 0.805 0.809 0.814 0.814 0.818 0.818 0.818 0.818 0.822 0.822 0.827 0.831 0.835 0.843 0.847 0.851 0.859 0.867 0.876 0.884 0.892 0.900 0.909 0.916 0.926 0.933 0.938 0.946 0.951 0.958 0.962 0.965 0.968 0.969 0.970 0.968 0.966 0.962 0.957 0.948 0.939 0.929 0.915 0.900 0.885 0.865 0.844 0.820 0.796 0.769"/><feFuncG type="table" tableValues="0.510 0.535 0.559 0.582 0.606 0.628 0.644 0.665 0.680 0.699 0.713 0.727 0.740 0.753 0.764 0.775 0.783 0.793 0.799 0.809 0.815 0.820 0.825 0.830 0.835 0.839 0.841 0.845 0.847 0.849 0.850 0.852 0.853 0.854 0.854 0.856 0.856 0.856 0.856 0.857 0.857 0.858 0.860 0.861 0.862 0.862 0.863 0.864 0.864 0.860 0.856 0.852 0.848 0.839 0.834 0.826 0.816 0.809 0.799 0.787 0.771 0.758 0.745 0.726 0.706 0.690 0.668 0.646 0.622 0.598 0.566 0.540 0.512 0.477 0.441 0.410 0.371 0.330 0.287 0.242 0.189"/><feFuncB type="table" tableValues="0.918 0.932 0.946 0.957 0.969 0.977 0.983 0.989 0.993 0.997 0.998 1.000 0.999 0.999 0.997 0.994 0.992 0.988 0.985 0.979 0.976 0.971 0.966 0.961 0.956 0.949 0.946 0.940 0.937 0.933 0.930 0.926 0.922 0.918 0.918 0.915 0.915 0.915 0.915 0.911 0.911 0.907 0.903 0.899 0.890 0.886 0.881 0.872 0.863 0.851 0.840 0.829 0.818 0.800 0.789 0.771 0.753 0.741 0.723 0.705 0.680 0.662 0.643 0.618 0.594 0.575 0.550 0.526 0.502 0.477 0.447 0.424 0.401 0.372 0.344 0.323 0.296 0.270 0.245 0.221 0.198"/></feComponentTransfer>
<feComponentTransfer in="s" result="av"><feFuncR type="table" tableValues="1.000 1.000 1.000 1.000 1.000 1.000 1.000 1.000 1.000 1.000 1.000 1.000 0.995 0.919 0.846 0.775 0.706 0.641 0.578 0.517 0.460 0.405 0.353 0.304 0.257 0.214 0.173 0.136 0.101 0.070 0.042 0.017 0.000 0.000 0.000 0.000 0.000 0.000 0.000 0.000 0.000 0.005 0.030 0.058 0.090 0.126 0.165 0.207 0.253 0.302 0.354 0.409 0.468 0.529 0.594 0.662 0.732 0.806 0.882 0.961 1.000 1.000 1.000 1.000 1.000 1.000 1.000 1.000 1.000 1.000 1.000 1.000 1.000 1.000 1.000 1.000 1.000 1.000 1.000 1.000 1.000"/></feComponentTransfer>
<feColorMatrix in="av" type="matrix" values="0 0 0 0 1 0 0 0 0 1 0 0 0 0 1 1 0 0 0 0" result="a"/>
<feComposite in="col" in2="a" operator="in"/>
</filter>
<g transform="rotate(-18 628.5 446.15)" filter="url(#txe)" opacity="1"><g transform="rotate(18 628.5 446.15)">
<rect x="103.0" y="38.0" width="1051.0" height="816.3" fill="#000"/>
<ellipse cx="500" cy="560" rx="105" ry="95" transform="rotate(-20 500 560)" fill="rgb(153,153,153)"/>
<ellipse cx="470" cy="400" rx="130" ry="80" transform="rotate(-20 470 400)" fill="rgb(127,127,127)"/>
<path d="M300 796 L360 696 L393 618 L471 584 L516 551 L538 462 L520 380" fill="none" stroke="rgb(114,114,114)" stroke-width="40" stroke-linecap="round" stroke-linejoin="round"/>
<path d="M164 773 L249 707 L284 629 L338 551 L349 462" fill="none" stroke="rgb(102,102,102)" stroke-width="30" stroke-linecap="round" stroke-linejoin="round"/>
<ellipse cx="310" cy="765" rx="75" ry="42" transform="rotate(0 310 765)" fill="rgb(153,153,153)"/>
<ellipse cx="620" cy="200" rx="120" ry="60" transform="rotate(5 620 200)" fill="rgb(102,102,102)"/>
</g></g>
<filter id="wob" x="-0.1" y="-0.1" width="1.2" height="1.2"><feTurbulence type="fractalNoise" baseFrequency="0.09" numOctaves="2" seed="4" result="w"/><feDisplacementMap in="SourceGraphic" in2="w" scale="7" xChannelSelector="R" yChannelSelector="G"/><feGaussianBlur stdDeviation="0.7"/></filter>
<filter id="soft" x="-0.05" y="-0.05" width="1.1" height="1.1"><feGaussianBlur stdDeviation="0.8"/></filter>
<g filter="url(#soft)">
<path d="M780 139 L820 144 L860 151 L910 160 L956 169" fill="none" stroke="#e27a61" stroke-width="2.8" stroke-opacity="0.75" stroke-linecap="round" stroke-linejoin="round" stroke-dasharray="70 6 40 5"/>
<path d="M948 167.5 L985 174 L1015 180.5" fill="none" stroke="#b8122a" stroke-width="4.6" stroke-opacity="0.95" stroke-linecap="round" stroke-linejoin="round" stroke-dasharray="none"/>
<path d="M1011 179.5 L1050 196 L1093 219" fill="none" stroke="#e0654f" stroke-width="3.4" stroke-opacity="0.8" stroke-linecap="round" stroke-linejoin="round" stroke-dasharray="50 5"/>
<path d="M1030 196 L1062 211 L1093 229" fill="none" stroke="#ee8c6f" stroke-width="2.5" stroke-opacity="0.8" stroke-linecap="round" stroke-linejoin="round" stroke-dasharray="30 8"/>
<path d="M1000 196 L1040 213 L1093 240" fill="none" stroke="#f2a98f" stroke-width="2.2" stroke-opacity="0.6" stroke-linecap="round" stroke-linejoin="round" stroke-dasharray="24 10 40 8"/>
<path d="M951 174 L1007 192 L1064 212" fill="none" stroke="#5977e3" stroke-width="2.5" stroke-opacity="0.7" stroke-linecap="round" stroke-linejoin="round" stroke-dasharray="35 9 20 7"/>
<path d="M880 160 L930 171 L975 186" fill="none" stroke="#6f8dec" stroke-width="2.3" stroke-opacity="0.6" stroke-linecap="round" stroke-linejoin="round" stroke-dasharray="28 10 45 14"/>
<path d="M870 172 L905 176 L940 186" fill="none" stroke="#f0a58a" stroke-width="2.2" stroke-opacity="0.6" stroke-linecap="round" stroke-linejoin="round" stroke-dasharray="22 9"/>
<path d="M560 129.2 L572 129.5 L584 129.9 L596 130.4 L608 131 L620 131.7 L632 132.5 L644 133.3 L656 134.3 L668 135.3 L680 136.4 L692 137.6 L704 138.9 L716 140.3 L728 141.8 L740 143.4 L752 145.1 L764 146.8 L776 148.7 L788 150.6 L800 152.7" fill="none" stroke="#f0a58a" stroke-width="2.5" stroke-opacity="0.6" stroke-linecap="round" stroke-linejoin="round" stroke-dasharray="60 14 30 8"/>
<path d="M420 144.1 L431 143.5 L442 142.9 L453 142.3 L464 141.9 L475 141.5 L486 141.2 L497 141 L508 140.9 L519 140.8 L530 140.8 L541 140.9 L552 141.1 L563 141.3 L574 141.6 L585 142 L596 142.4 L607 143 L618 143.6 L629 144.3 L640 145" fill="none" stroke="#f2b59d" stroke-width="2.5" stroke-opacity="0.55" stroke-linecap="round" stroke-linejoin="round" stroke-dasharray="45 16 25 10"/>
<path d="M505 162.9 L509.2 162.9 L513.5 162.8 L517.8 162.8 L522 162.8 L526.2 162.8 L530.5 162.8 L534.8 162.8 L539 162.9 L543.2 162.9 L547.5 163 L551.8 163.1 L556 163.1 L560.2 163.2 L564.5 163.3 L568.8 163.5 L573 163.6 L577.2 163.7 L581.5 163.9 L585.8 164 L590 164.2" fill="none" stroke="#5f7fe8" stroke-width="3" stroke-opacity="0.6" stroke-linecap="round" stroke-linejoin="round" stroke-dasharray="30 6 50 10"/>
<path d="M385 176.9 L388.8 176.6 L392.5 176.3 L396.2 176 L400 175.7 L403.8 175.4 L407.5 175.1 L411.2 174.8 L415 174.5 L418.8 174.3 L422.5 174 L426.2 173.8 L430 173.6 L433.8 173.4 L437.5 173.1 L441.2 172.9 L445 172.8 L448.8 172.6 L452.5 172.4 L456.2 172.2 L460 172.1" fill="none" stroke="#6a88ea" stroke-width="2.5" stroke-opacity="0.6" stroke-linecap="round" stroke-linejoin="round" stroke-dasharray="26 8"/>
<path d="M368 230 L395 236 L430 252 L470 280 L500 296 L525 312" fill="none" stroke="#4a63d3" stroke-width="3.2" stroke-opacity="0.8" stroke-linecap="round" stroke-linejoin="round" stroke-dasharray="45 4 30 6 60 5"/>
<path d="M372 237 L430 261 L480 293" fill="none" stroke="#e58368" stroke-width="2.2" stroke-opacity="0.55" stroke-linecap="round" stroke-linejoin="round" stroke-dasharray="20 9 34 12"/>
<path d="M440 262 L475 290 L510 310 L540 322" fill="none" stroke="#5a76e0" stroke-width="2.5" stroke-opacity="0.6" stroke-linecap="round" stroke-linejoin="round" stroke-dasharray="22 8 14 10"/>
<path d="M700 200 L760 194 L827 200 L879 221" fill="none" stroke="#f0a58a" stroke-width="2.5" stroke-opacity="0.65" stroke-linecap="round" stroke-linejoin="round" stroke-dasharray="50 10 30 8"/>
</g>
<g filter="url(#wob)">
<ellipse cx="470" cy="333" rx="8" ry="4.5" fill="#b40426"/>
<ellipse cx="491" cy="322" rx="6" ry="3.5" fill="#b40426"/>
<ellipse cx="455" cy="339" rx="7" ry="3.5" fill="#e5735c" fill-opacity=".6"/>
<path d="M450 341 L475 346" fill="none" stroke="#c93a36" stroke-width="3" stroke-opacity="0.9" stroke-linecap="round" stroke-linejoin="round" stroke-dasharray="none"/>
<path d="M462 346 L480 339" fill="none" stroke="#4158cc" stroke-width="3" stroke-opacity="0.8" stroke-linecap="round" stroke-linejoin="round" stroke-dasharray="none"/>
<path d="M379 362 L389 353" fill="none" stroke="#c0282f" stroke-width="4" stroke-opacity="0.9" stroke-linecap="round" stroke-linejoin="round" stroke-dasharray="none"/>
<path d="M420 368 L432 355" fill="none" stroke="#c93a36" stroke-width="4" stroke-opacity="0.9" stroke-linecap="round" stroke-linejoin="round" stroke-dasharray="none"/>
<ellipse cx="440" cy="379" rx="9" ry="6" fill="#5470de" fill-opacity=".7"/>
</g>
</g>
<path id="grid" d="M221.1 943.0 L222.5 928.6 L223.9 914.3 L225.4 900.1 L226.9 886.0 L228.4 872.0 L229.9 858.1 L231.5 844.3 L233.1 830.6 L234.7 817.0 L236.3 803.5 L237.9 790.0 L239.6 776.7 L241.3 763.6 L243.0 750.5 L244.8 737.5 L246.5 724.6 L248.3 711.9 L250.1 699.2 L251.9 686.7 L253.8 674.2 L255.6 661.9 L257.5 649.7 L259.4 637.7 L261.4 625.7 L263.3 613.9 L265.3 602.2 L267.2 590.6 L269.2 579.1 L271.3 567.7 L273.3 556.5 L275.3 545.4 L277.4 534.4 L279.5 523.5 L281.6 512.8 L283.7 502.2 L285.8 491.7 L288.0 481.4 L290.2 471.2 L292.3 461.1 L294.5 451.1 L296.8 441.3 L299.0 431.6 L301.2 422.0 L303.5 412.6 L305.8 403.3 L308.0 394.1 L310.3 385.1 L312.6 376.2 L315.0 367.4 L317.3 358.8 L319.6 350.3 L322.0 341.9 L324.4 333.7 L326.8 325.6 L329.2 317.7 L331.6 309.9 L334.0 302.2 L336.4 294.6 L338.8 287.2 L341.3 280.0 L343.7 272.9 L346.2 265.9 L348.7 259.0 L351.1 252.3 L353.6 245.7 L356.1 239.3 L358.6 233.0 L361.1 226.9 L363.7 220.9 L366.2 215.0 L368.7 209.3 L371.3 203.7 L373.8 198.2 L376.4 192.9 L378.9 187.7 L381.5 182.7 L384.1 177.8 L386.6 173.0 L389.2 168.4 L391.8 163.9 L394.4 159.6 L397.0 155.4 L399.6 151.3 L402.2 147.4 L404.8 143.6 L407.4 139.9 L410.0 136.4 L412.6 133.0 L415.2 129.8 L417.8 126.7 L420.4 123.7 L423.1 120.9 L425.7 118.2 L428.3 115.6 L430.9 113.2 L433.5 110.9 L436.2 108.7 L438.8 106.7 L441.4 104.8 L444.0 103.1 L446.6 101.5 L449.3 100.0 L451.9 98.6 L454.5 97.4 L457.1 96.3 L459.7 95.3 L462.3 94.5 L464.9 93.8 L467.5 93.2 L470.2 92.8 L472.8 92.5 L475.4 92.3 M521.4 940.8 L521.4 926.4 L521.4 912.0 L521.4 897.8 L521.4 883.7 L521.4 869.7 L521.4 855.7 L521.4 841.9 L521.4 828.2 L521.4 814.5 L521.4 801.0 L521.4 787.6 L521.4 774.2 L521.4 761.0 L521.4 747.9 L521.4 734.9 L521.4 722.1 L521.4 709.3 L521.4 696.6 L521.4 684.1 L521.4 671.6 L521.4 659.3 L521.4 647.1 L521.4 635.0 L521.4 623.1 L521.4 611.2 L521.4 599.5 L521.4 587.9 L521.4 576.4 L521.4 565.1 L521.4 553.8 L521.4 542.7 L521.4 531.8 L521.4 520.9 L521.4 510.2 L521.4 499.6 L521.4 489.1 L521.4 478.8 L521.4 468.5 L521.4 458.5 L521.4 448.5 L521.4 438.7 L521.4 429.0 L521.4 419.4 L521.4 410.0 L521.4 400.7 L521.4 391.6 L521.4 382.5 L521.4 373.7 L521.4 364.9 L521.4 356.3 L521.4 347.8 L521.4 339.5 L521.4 331.3 L521.4 323.2 L521.4 315.3 L521.4 307.5 L521.4 299.8 L521.4 292.3 L521.4 284.9 L521.4 277.7 L521.4 270.6 L521.4 263.6 L521.4 256.8 L521.4 250.1 L521.4 243.6 L521.4 237.2 L521.4 230.9 L521.4 224.8 L521.4 218.8 L521.4 213.0 L521.4 207.3 L521.4 201.7 L521.4 196.3 L521.4 191.0 L521.4 185.8 L521.4 180.8 L521.4 175.9 L521.4 171.2 L521.4 166.6 L521.4 162.2 L521.4 157.9 L521.4 153.7 L521.4 149.7 L521.4 145.8 L521.4 142.0 L521.4 138.4 L521.4 134.9 L521.4 131.6 L521.4 128.4 L521.4 125.3 L521.4 122.3 L521.4 119.5 L521.4 116.9 L521.4 114.4 L521.4 112.0 L521.4 109.7 L521.4 107.6 L521.4 105.6 L521.4 103.8 L521.4 102.0 L521.4 100.5 L521.4 99.0 L521.4 97.7 L521.4 96.5 L521.4 95.4 L521.4 94.5 L521.4 93.7 L521.4 93.1 L521.4 92.5 L521.4 92.1 L521.4 91.8 L521.4 91.7 M821.7 943.0 L820.3 928.6 L818.9 914.3 L817.4 900.1 L815.9 886.0 L814.4 872.0 L812.9 858.1 L811.3 844.3 L809.7 830.6 L808.1 817.0 L806.5 803.5 L804.9 790.0 L803.2 776.7 L801.5 763.6 L799.8 750.5 L798.0 737.5 L796.3 724.6 L794.5 711.9 L792.7 699.2 L790.9 686.7 L789.0 674.2 L787.2 661.9 L785.3 649.7 L783.4 637.7 L781.4 625.7 L779.5 613.9 L777.5 602.2 L775.6 590.6 L773.6 579.1 L771.5 567.7 L769.5 556.5 L767.5 545.4 L765.4 534.4 L763.3 523.5 L761.2 512.8 L759.1 502.2 L757.0 491.7 L754.8 481.4 L752.6 471.2 L750.5 461.1 L748.3 451.1 L746.0 441.3 L743.8 431.6 L741.6 422.0 L739.3 412.6 L737.0 403.3 L734.8 394.1 L732.5 385.1 L730.2 376.2 L727.8 367.4 L725.5 358.8 L723.2 350.3 L720.8 341.9 L718.4 333.7 L716.0 325.6 L713.6 317.7 L711.2 309.9 L708.8 302.2 L706.4 294.6 L704.0 287.2 L701.5 280.0 L699.1 272.9 L696.6 265.9 L694.1 259.0 L691.7 252.3 L689.2 245.7 L686.7 239.3 L684.2 233.0 L681.7 226.9 L679.1 220.9 L676.6 215.0 L674.1 209.3 L671.5 203.7 L669.0 198.2 L666.4 192.9 L663.9 187.7 L661.3 182.7 L658.7 177.8 L656.2 173.0 L653.6 168.4 L651.0 163.9 L648.4 159.6 L645.8 155.4 L643.2 151.3 L640.6 147.4 L638.0 143.6 L635.4 139.9 L632.8 136.4 L630.2 133.0 L627.6 129.8 L625.0 126.7 L622.4 123.7 L619.7 120.9 L617.1 118.2 L614.5 115.6 L611.9 113.2 L609.3 110.9 L606.6 108.7 L604.0 106.7 L601.4 104.8 L598.8 103.1 L596.2 101.5 L593.5 100.0 L590.9 98.6 L588.3 97.4 L585.7 96.3 L583.1 95.3 L580.5 94.5 L577.9 93.8 L575.3 93.2 L572.6 92.8 L570.0 92.5 L567.4 92.3 M1108.3 949.5 L1105.6 935.2 L1102.8 921.0 L1100.0 906.9 L1097.1 892.8 L1094.1 878.9 L1091.2 865.1 L1088.1 851.3 L1085.1 837.7 L1082.0 824.1 L1078.8 810.7 L1075.6 797.3 L1072.4 784.1 L1069.1 770.9 L1065.7 757.9 L1062.4 744.9 L1058.9 732.1 L1055.5 719.4 L1052.0 706.8 L1048.4 694.3 L1044.9 681.9 L1041.2 669.6 L1037.6 657.4 L1033.9 645.4 L1030.2 633.4 L1026.4 621.6 L1022.6 609.9 L1018.7 598.3 L1014.8 586.8 L1010.9 575.5 L1007.0 564.3 L1003.0 553.2 L999.0 542.2 L994.9 531.3 L990.8 520.6 L986.7 510.0 L982.6 499.5 L978.4 489.1 L974.2 478.9 L969.9 468.8 L965.6 458.8 L961.3 448.9 L957.0 439.2 L952.6 429.6 L948.2 420.1 L943.8 410.8 L939.4 401.6 L934.9 392.5 L930.4 383.6 L925.9 374.8 L921.3 366.1 L916.7 357.5 L912.2 349.1 L907.5 340.9 L902.9 332.7 L898.2 324.7 L893.5 316.8 L888.8 309.1 L884.1 301.5 L879.3 294.0 L874.6 286.7 L869.8 279.5 L865.0 272.5 L860.2 265.6 L855.3 258.8 L850.4 252.1 L845.6 245.6 L840.7 239.3 L835.8 233.0 L830.8 226.9 L825.9 221.0 L821.0 215.2 L816.0 209.5 L811.0 203.9 L806.0 198.5 L801.0 193.3 L796.0 188.1 L791.0 183.2 L785.9 178.3 L780.9 173.6 L775.8 169.0 L770.8 164.6 L765.7 160.3 L760.6 156.1 L755.5 152.1 L750.5 148.2 L745.4 144.4 L740.2 140.8 L735.1 137.3 L730.0 134.0 L724.9 130.8 L719.8 127.7 L714.6 124.8 L709.5 122.0 L704.4 119.3 L699.2 116.8 L694.1 114.4 L689.0 112.1 L683.8 110.0 L678.7 108.0 L673.5 106.2 L668.4 104.4 L663.2 102.8 L658.1 101.4 L653.0 100.1 L647.8 98.9 L642.7 97.8 L637.6 96.9 L632.5 96.1 L627.3 95.4 L622.2 94.8 L617.1 94.4 L612.0 94.1 M-181.2 576.6 L-160.7 575.2 L-139.9 573.8 L-118.8 572.5 L-97.4 571.2 L-75.8 569.9 L-53.9 568.7 L-31.8 567.5 L-9.5 566.4 L13.0 565.3 L35.8 564.3 L58.8 563.3 L82.0 562.3 L105.3 561.4 L128.9 560.6 L152.6 559.8 L176.4 559.0 L200.5 558.3 L224.6 557.7 L248.9 557.1 L273.3 556.5 L297.8 556.0 L322.4 555.5 L347.1 555.1 L371.8 554.8 L396.7 554.5 L421.5 554.3 L446.5 554.1 L471.4 554.0 L496.4 553.9 L521.4 553.8 L546.4 553.9 L571.4 554.0 L596.3 554.1 L621.3 554.3 L646.1 554.5 L671.0 554.8 L695.7 555.1 L720.4 555.5 L745.0 556.0 L769.5 556.5 L793.9 557.1 L818.2 557.7 L842.3 558.3 L866.4 559.0 L890.2 559.8 L913.9 560.6 L937.5 561.4 L960.8 562.3 L984.0 563.3 L1007.0 564.3 L1029.8 565.3 L1052.3 566.4 L1074.6 567.5 L1096.7 568.7 L1118.6 569.9 L1140.2 571.2 L1161.6 572.5 L1182.7 573.8 L1203.5 575.2 L1224.0 576.6 L1244.3 578.1 L1264.2 579.6 L1283.9 581.1 L1303.2 582.7 L1322.2 584.3 L1340.9 585.9 L1359.3 587.6 L1377.4 589.3 L1395.1 591.1 L1412.4 592.8 L1429.4 594.6 L1446.1 596.4 L1462.4 598.3 L1478.3 600.1 L1493.8 602.0 L1509.0 604.0 L1523.8 605.9 L1538.3 607.9 L1552.3 609.9 L1566.0 611.9 L1579.2 613.9 L1592.1 615.9 L1604.6 618.0 L1616.7 620.1 L1628.4 622.2 L1639.6 624.3 L1650.5 626.4 L1661.0 628.5 L1671.1 630.6 L1680.7 632.8 M-58.4 377.8 L-41.3 376.4 L-24.0 375.1 L-6.5 373.8 L11.2 372.6 L29.1 371.4 L47.2 370.3 L65.5 369.2 L84.0 368.1 L102.7 367.1 L121.5 366.1 L140.5 365.1 L159.6 364.3 L178.9 363.4 L198.3 362.6 L217.9 361.9 L237.5 361.1 L257.3 360.5 L277.2 359.9 L297.2 359.3 L317.3 358.8 L337.5 358.3 L357.7 357.9 L378.0 357.5 L398.4 357.2 L418.8 356.9 L439.3 356.7 L459.8 356.5 L480.3 356.4 L500.9 356.3 L521.4 356.3 L541.9 356.3 L562.5 356.4 L583.0 356.5 L603.5 356.7 L624.0 356.9 L644.4 357.2 L664.8 357.5 L685.1 357.9 L705.3 358.3 L725.5 358.8 L745.6 359.3 L765.6 359.9 L785.5 360.5 L805.3 361.1 L824.9 361.9 L844.5 362.6 L863.9 363.4 L883.2 364.3 L902.3 365.1 L921.3 366.1 L940.1 367.1 L958.8 368.1 L977.3 369.2 L995.6 370.3 L1013.7 371.4 L1031.6 372.6 L1049.3 373.8 L1066.8 375.1 L1084.1 376.4 L1101.2 377.8 L1118.0 379.1 L1134.6 380.6 L1151.0 382.0 L1167.1 383.5 L1183.0 385.0 L1198.6 386.6 L1214.0 388.2 L1229.1 389.8 L1243.9 391.5 L1258.5 393.1 L1272.8 394.9 L1286.7 396.6 L1300.5 398.4 L1313.9 400.2 L1327.0 402.0 L1339.8 403.8 L1352.3 405.7 L1364.5 407.6 L1376.5 409.5 L1388.1 411.4 L1399.3 413.4 L1410.3 415.3 L1420.9 417.3 L1431.3 419.3 L1441.3 421.4 L1450.9 423.4 L1460.3 425.4 L1469.3 427.5 L1478.0 429.6 L1486.3 431.7 M79.0 230.6 L92.2 229.5 L105.4 228.4 L118.9 227.4 L132.5 226.3 L146.2 225.4 L160.1 224.4 L174.1 223.5 L188.2 222.6 L202.5 221.8 L216.9 221.0 L231.4 220.2 L246.0 219.5 L260.7 218.8 L275.5 218.1 L290.4 217.5 L305.4 216.9 L320.5 216.4 L335.7 215.9 L350.9 215.4 L366.2 215.0 L381.5 214.6 L396.9 214.3 L412.4 214.0 L427.9 213.7 L443.4 213.5 L459.0 213.3 L474.6 213.1 L490.2 213.0 L505.8 213.0 L521.4 213.0 L537.0 213.0 L552.6 213.0 L568.2 213.1 L583.8 213.3 L599.4 213.5 L614.9 213.7 L630.4 214.0 L645.9 214.3 L661.3 214.6 L676.6 215.0 L691.9 215.4 L707.1 215.9 L722.3 216.4 L737.4 216.9 L752.4 217.5 L767.3 218.1 L782.1 218.8 L796.8 219.5 L811.4 220.2 L825.9 221.0 L840.3 221.8 L854.6 222.6 L868.7 223.5 L882.7 224.4 L896.6 225.4 L910.3 226.3 L923.9 227.4 L937.4 228.4 L950.6 229.5 L963.8 230.6 L976.7 231.7 L989.5 232.9 L1002.2 234.1 L1014.6 235.4 L1026.9 236.6 L1038.9 237.9 L1050.8 239.3 L1062.5 240.6 L1074.0 242.0 L1085.3 243.4 L1096.4 244.8 L1107.3 246.3 L1118.0 247.7 L1128.5 249.2 L1138.7 250.8 L1148.8 252.3 L1158.6 253.9 L1168.2 255.5 L1177.5 257.1 L1186.6 258.7 L1195.5 260.3 L1204.2 262.0 L1212.6 263.7 L1220.8 265.4 L1228.7 267.1 L1236.4 268.8 L1243.9 270.6 L1251.1 272.3 L1258.1 274.1 L1264.8 275.9" fill="none" stroke="#696969" stroke-opacity="0.5" stroke-width="5" stroke-dasharray="18.5 8"/>
</defs>
<g transform="translate(0.0 0)">
<g clip-path="url(#clipA)"><g clip-path="url(#disc)"><rect x="163.0" y="98.0" width="931.0" height="696.3" fill="#d2dcec"/><use href="#tex" opacity="1"/></g><use href="#grid"/></g>
<rect x="163.0" y="98.0" width="931.0" height="696.3" fill="none" stroke="#262626" stroke-width="3.3"/>
<text x="627.8" y="82.3" font-size="51.4" text-anchor="middle">MFG - MSG(nearest)</text>
<text x="1031.5" y="164.3" font-size="46.5" text-anchor="middle">(a)</text>
<text x="150.2" y="238.2" font-size="46.6" text-anchor="end">60°N</text>
<text x="150.2" y="377.2" font-size="46.6" text-anchor="end">50°N</text>
<text x="150.2" y="571.7" font-size="46.6" text-anchor="end">40°N</text>
<text x="238.5" y="842.6" font-size="46.3" text-anchor="middle">10°W</text>
<text x="519.9" y="842.6" font-size="46.3" text-anchor="middle">0°</text>
<text x="804.8" y="842.6" font-size="46.3" text-anchor="middle">10°E</text>
<text x="1072.8" y="842.6" font-size="46.3" text-anchor="middle">20°E</text>
</g>
<g transform="translate(1116.6 0)">
<g clip-path="url(#clipA)"><g clip-path="url(#disc)"><rect x="163.0" y="98.0" width="931.0" height="696.3" fill="#d2dcec"/><use href="#tex" opacity="0.78"/></g><use href="#grid"/></g>
<rect x="163.0" y="98.0" width="931.0" height="696.3" fill="none" stroke="#262626" stroke-width="3.3"/>
<text x="627.8" y="82.3" font-size="51.4" text-anchor="middle">MFG - MSG(combined)</text>
<text x="1031.5" y="164.3" font-size="46.5" text-anchor="middle">(b)</text>
<text x="150.2" y="238.2" font-size="46.6" text-anchor="end">60°N</text>
<text x="150.2" y="377.2" font-size="46.6" text-anchor="end">50°N</text>
<text x="150.2" y="571.7" font-size="46.6" text-anchor="end">40°N</text>
<text x="238.5" y="842.6" font-size="46.3" text-anchor="middle">10°W</text>
<text x="519.9" y="842.6" font-size="46.3" text-anchor="middle">0°</text>
<text x="804.8" y="842.6" font-size="46.3" text-anchor="middle">10°E</text>
<text x="1072.8" y="842.6" font-size="46.3" text-anchor="middle">20°E</text>
</g>
<rect x="2264.2" y="83.4" width="35.6" height="724.8" fill="url(#cw)" stroke="#262626" stroke-width="3.3"/>
<line x1="2299.8" y1="83.4" x2="2315.3" y2="83.4" stroke="#262626" stroke-width="3.3"/>
<text x="2324" y="99.3" font-size="42">20</text>
<line x1="2299.8" y1="174.0" x2="2315.3" y2="174.0" stroke="#262626" stroke-width="3.3"/>
<text x="2324" y="189.9" font-size="42">15</text>
<line x1="2299.8" y1="264.6" x2="2315.3" y2="264.6" stroke="#262626" stroke-width="3.3"/>
<text x="2324" y="280.5" font-size="42">10</text>
<line x1="2299.8" y1="355.2" x2="2315.3" y2="355.2" stroke="#262626" stroke-width="3.3"/>
<text x="2324" y="371.1" font-size="42">5</text>
<line x1="2299.8" y1="445.8" x2="2315.3" y2="445.8" stroke="#262626" stroke-width="3.3"/>
<text x="2324" y="461.7" font-size="42">0</text>
<line x1="2299.8" y1="536.4" x2="2315.3" y2="536.4" stroke="#262626" stroke-width="3.3"/>
<text x="2324" y="552.3" font-size="42">−5</text>
<line x1="2299.8" y1="627.0" x2="2315.3" y2="627.0" stroke="#262626" stroke-width="3.3"/>
<text x="2324" y="642.9" font-size="42">−10</text>
<line x1="2299.8" y1="717.6" x2="2315.3" y2="717.6" stroke="#262626" stroke-width="3.3"/>
<text x="2324" y="733.5" font-size="42">−15</text>
<line x1="2299.8" y1="808.2" x2="2315.3" y2="808.2" stroke="#262626" stroke-width="3.3"/>
<text x="2324" y="824.1" font-size="42">−20</text>
<text transform="translate(2454.6 446.5) rotate(-90)" font-size="40.7" text-anchor="middle">Brightness Temperature Difference (K)</text>
<path d="M420.9 1914.0 V946.5 M642.2 1914.0 V946.5 M863.6 1914.0 V946.5 M199.5 1752.8 H1084.9 M199.5 1591.5 H1084.9 M199.5 1430.2 H1084.9 M199.5 1269.0 H1084.9 M199.5 1107.8 H1084.9" fill="none" stroke="#d0d0d0" stroke-width="2.4" stroke-dasharray="2.35 3.88"/>
<clipPath id="clipc"><rect x="199.5" y="946.5" width="885.4" height="967.5"/></clipPath>
<g clip-path="url(#clipc)" fill="#4c72b0" fill-opacity="0.74" stroke="#fff" stroke-opacity="0.55" stroke-width="1.2">
<rect x="192.60" y="1911.9" width="22.12" height="2.1"/>
<rect x="214.73" y="1911.3" width="22.12" height="2.7"/>
<rect x="236.85" y="1910.8" width="22.12" height="3.2"/>
<rect x="258.98" y="1910.3" width="22.12" height="3.7"/>
<rect x="281.10" y="1908.9" width="22.12" height="5.1"/>
<rect x="303.23" y="1907.5" width="22.12" height="6.5"/>
<rect x="325.35" y="1905.6" width="22.12" height="8.4"/>
<rect x="347.48" y="1903.2" width="22.12" height="10.8"/>
<rect x="369.60" y="1901.6" width="22.12" height="12.4"/>
<rect x="391.73" y="1896.1" width="22.12" height="17.9"/>
<rect x="413.85" y="1892.3" width="22.12" height="21.7"/>
<rect x="435.98" y="1886.6" width="22.12" height="27.4"/>
<rect x="458.10" y="1877.4" width="22.12" height="36.6"/>
<rect x="480.23" y="1864.9" width="22.12" height="49.1"/>
<rect x="502.35" y="1846.0" width="22.12" height="68.0"/>
<rect x="524.48" y="1819.3" width="22.12" height="94.7"/>
<rect x="546.60" y="1762.3" width="22.12" height="151.7"/>
<rect x="568.73" y="1547.4" width="22.12" height="366.6"/>
<rect x="590.85" y="974.4" width="22.12" height="939.6"/>
<rect x="612.98" y="1492.8" width="22.12" height="421.2"/>
<rect x="635.10" y="1786.3" width="22.12" height="127.7"/>
<rect x="657.23" y="1841.6" width="22.12" height="72.4"/>
<rect x="679.35" y="1861.7" width="22.12" height="52.3"/>
<rect x="701.48" y="1875.7" width="22.12" height="38.3"/>
<rect x="723.60" y="1883.4" width="22.12" height="30.6"/>
<rect x="745.73" y="1890.0" width="22.12" height="24.0"/>
<rect x="767.85" y="1895.6" width="22.12" height="18.4"/>
<rect x="789.98" y="1899.3" width="22.12" height="14.7"/>
<rect x="812.10" y="1903.0" width="22.12" height="11.0"/>
<rect x="834.23" y="1904.9" width="22.12" height="9.1"/>
<rect x="856.35" y="1906.7" width="22.12" height="7.3"/>
<rect x="878.48" y="1907.6" width="22.12" height="6.4"/>
<rect x="900.60" y="1908.6" width="22.12" height="5.4"/>
<rect x="922.73" y="1909.6" width="22.12" height="4.4"/>
<rect x="944.85" y="1910.4" width="22.12" height="3.6"/>
<rect x="966.98" y="1911.0" width="22.12" height="3.0"/>
<rect x="989.10" y="1911.6" width="22.12" height="2.4"/>
<rect x="1011.23" y="1912.1" width="22.12" height="1.9"/>
<rect x="1033.35" y="1912.5" width="22.12" height="1.5"/>
<rect x="1055.47" y="1912.8" width="22.12" height="1.2"/>
<rect x="1077.60" y="1913.0" width="22.12" height="1.0"/>
</g>
<rect x="199.5" y="946.5" width="885.4" height="967.5" fill="none" stroke="#cccccc" stroke-width="3.1"/>
<text x="199.5" y="1968.1" font-size="40.2" text-anchor="middle">−20</text>
<text x="420.9" y="1968.1" font-size="40.2" text-anchor="middle">−10</text>
<text x="642.2" y="1968.1" font-size="40.2" text-anchor="middle">0</text>
<text x="863.6" y="1968.1" font-size="40.2" text-anchor="middle">10</text>
<text x="1084.9" y="1968.1" font-size="40.2" text-anchor="middle">20</text>
<text x="642.2" y="2016.6" font-size="42.4" text-anchor="middle">Brightness Temperature Difference (K)</text>
<text x="177.9" y="1928.8" font-size="39.0" text-anchor="end">0</text>
<text x="177.9" y="1767.5" font-size="39.0" text-anchor="end">20,000</text>
<text x="177.9" y="1606.3" font-size="39.0" text-anchor="end">40,000</text>
<text x="177.9" y="1445.0" font-size="39.0" text-anchor="end">60,000</text>
<text x="177.9" y="1283.8" font-size="39.0" text-anchor="end">80,000</text>
<text x="177.9" y="1122.5" font-size="39.0" text-anchor="end">100,000</text>
<text x="177.9" y="961.3" font-size="39.0" text-anchor="end">120,000</text>
<text x="1029.0" y="1858.2" font-size="42.6" text-anchor="middle">(c)</text>
<rect x="797.5" y="1017.9" width="220.7" height="97.1" fill="none" stroke="#c44e52" stroke-width="5"/>
<text x="819.2" y="1059.6" font-size="42.3">Δ = 3.20</text>
<text x="818.6" y="1099.7" font-size="42.3">σ = 3.51</text>
<path d="M1499.5 1914.0 V946.5 M1716.9 1914.0 V946.5 M1934.2 1914.0 V946.5 M1282.2 1752.8 H2151.6 M1282.2 1591.5 H2151.6 M1282.2 1430.2 H2151.6 M1282.2 1269.0 H2151.6 M1282.2 1107.8 H2151.6" fill="none" stroke="#d0d0d0" stroke-width="2.4" stroke-dasharray="2.35 3.88"/>
<clipPath id="clipd"><rect x="1282.2" y="946.5" width="869.4" height="967.5"/></clipPath>
<g clip-path="url(#clipd)" fill="#4c72b0" fill-opacity="0.74" stroke="#fff" stroke-opacity="0.55" stroke-width="1.2">
<rect x="1282.00" y="1912.8" width="21.73" height="1.2"/>
<rect x="1303.73" y="1912.3" width="21.73" height="1.7"/>
<rect x="1325.47" y="1911.5" width="21.73" height="2.5"/>
<rect x="1347.20" y="1910.7" width="21.73" height="3.3"/>
<rect x="1368.94" y="1909.6" width="21.73" height="4.4"/>
<rect x="1390.67" y="1908.8" width="21.73" height="5.2"/>
<rect x="1412.41" y="1907.0" width="21.73" height="7.0"/>
<rect x="1434.14" y="1904.3" width="21.73" height="9.7"/>
<rect x="1455.88" y="1901.7" width="21.73" height="12.3"/>
<rect x="1477.62" y="1896.9" width="21.73" height="17.1"/>
<rect x="1499.35" y="1891.6" width="21.73" height="22.4"/>
<rect x="1521.09" y="1884.2" width="21.73" height="29.8"/>
<rect x="1542.82" y="1874.1" width="21.73" height="39.9"/>
<rect x="1564.56" y="1859.6" width="21.73" height="54.4"/>
<rect x="1586.29" y="1837.6" width="21.73" height="76.4"/>
<rect x="1608.03" y="1799.4" width="21.73" height="114.6"/>
<rect x="1629.76" y="1716.7" width="21.73" height="197.3"/>
<rect x="1651.49" y="1314.4" width="21.73" height="599.6"/>
<rect x="1673.23" y="1024.6" width="21.73" height="889.4"/>
<rect x="1694.96" y="1652.4" width="21.73" height="261.6"/>
<rect x="1716.70" y="1813.2" width="21.73" height="100.8"/>
<rect x="1738.43" y="1849.8" width="21.73" height="64.2"/>
<rect x="1760.17" y="1868.8" width="21.73" height="45.2"/>
<rect x="1781.90" y="1881.6" width="21.73" height="32.4"/>
<rect x="1803.64" y="1889.0" width="21.73" height="25.0"/>
<rect x="1825.38" y="1894.8" width="21.73" height="19.2"/>
<rect x="1847.11" y="1899.8" width="21.73" height="14.2"/>
<rect x="1868.85" y="1903.3" width="21.73" height="10.7"/>
<rect x="1890.58" y="1905.4" width="21.73" height="8.6"/>
<rect x="1912.32" y="1907.3" width="21.73" height="6.7"/>
<rect x="1934.05" y="1909.1" width="21.73" height="4.9"/>
<rect x="1955.78" y="1910.7" width="21.73" height="3.3"/>
<rect x="1977.52" y="1911.2" width="21.73" height="2.8"/>
<rect x="1999.26" y="1911.5" width="21.73" height="2.5"/>
</g>
<rect x="1282.2" y="946.5" width="869.4" height="967.5" fill="none" stroke="#cccccc" stroke-width="3.1"/>
<text x="1282.2" y="1968.1" font-size="40.2" text-anchor="middle">−20</text>
<text x="1499.5" y="1968.1" font-size="40.2" text-anchor="middle">−10</text>
<text x="1716.9" y="1968.1" font-size="40.2" text-anchor="middle">0</text>
<text x="1934.2" y="1968.1" font-size="40.2" text-anchor="middle">10</text>
<text x="2151.6" y="1968.1" font-size="40.2" text-anchor="middle">20</text>
<text x="1716.9" y="2016.6" font-size="42.4" text-anchor="middle">Brightness Temperature Difference (K)</text>
<text x="2173.7" y="1928.8" font-size="39.0">0</text>
<text x="2173.7" y="1767.5" font-size="39.0">20,000</text>
<text x="2173.7" y="1606.3" font-size="39.0">40,000</text>
<text x="2173.7" y="1445.0" font-size="39.0">60,000</text>
<text x="2173.7" y="1283.8" font-size="39.0">80,000</text>
<text x="2173.7" y="1122.5" font-size="39.0">100,000</text>
<text x="2173.7" y="961.3" font-size="39.0">120,000</text>
<text x="2099.0" y="1858.2" font-size="42.6" text-anchor="middle">(d)</text>
<rect x="1868.5" y="1017.9" width="217.0" height="97.1" fill="none" stroke="#c44e52" stroke-width="5"/>
<text x="1890.2" y="1059.6" font-size="42.3">Δ = 2.98</text>
<text x="1889.6" y="1099.7" font-size="42.3">σ = 3.02</text>
</svg></body></html>
